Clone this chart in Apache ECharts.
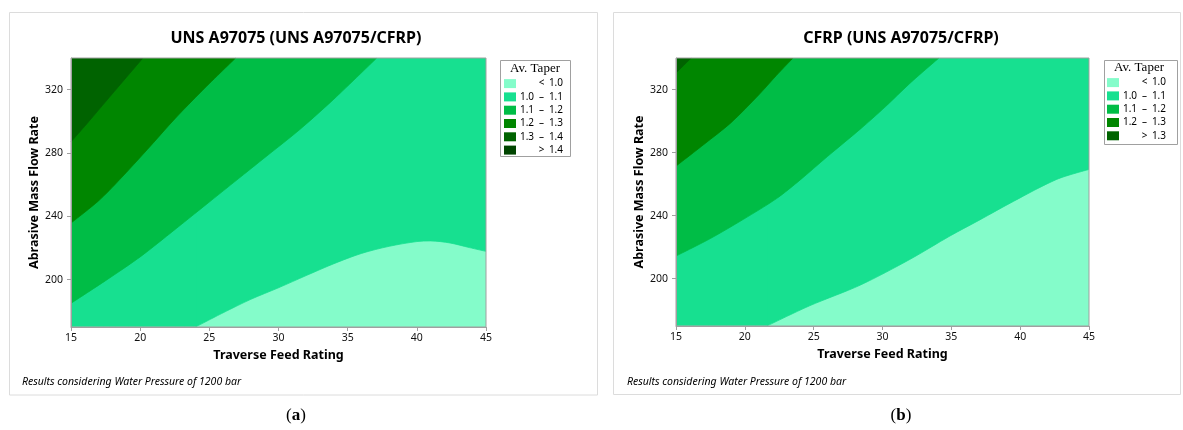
<!DOCTYPE html>
<html>
<head>
<meta charset="utf-8">
<script src="https://cdn.jsdelivr.net/npm/echarts@6/dist/echarts.min.js"></script>
<style>
  html, body { margin: 0; padding: 0; background: #ffffff; }
  #chart { width: 1183px; height: 430px; }
</style>
</head>
<body>
<div id="chart"></div>
<script>
// ---- axes ----
const xRange = [15, 45];
const yRange = [170, 340];
const xTicks = [15, 20, 25, 30, 35, 40, 45];
const yTicks = [200, 240, 280, 320];

// ---- contour levels (Av. Taper) ----
const levelsA = [1.0, 1.1, 1.2, 1.3, 1.4];
const levelsB = [1.0, 1.1, 1.2, 1.3];
const bandColors = ['#84fcca', '#17e090', '#00bd46', '#008600', '#006300', '#004500'];
const bandColorsB = ['#84fcca', '#17e090', '#00bd46', '#008600', '#006300'];

// ---- contour boundaries, UNS A97075 panel: [feed rate, mass flow] where taper crosses each level ----
const a_level10 = [[24.0, 170], [26, 179], [28, 187.5], [30, 194.8], [32, 202.5], [34, 210],
                   [36, 216.5], [38, 221], [40, 224], [41, 224.4], [42.4, 223.1], [43.8, 220.2], [45, 217.8]];
const a_level11 = [[15, 185], [17.5, 199.3], [20, 214.3], [22.5, 231.5], [25, 249], [27, 263], [29, 277],
                   [31.5, 294.5], [34, 314], [37.1, 340]];
const a_level12 = [[15, 235.7], [17, 249.8], [18.5, 263], [20.5, 282], [22.5, 301.5], [24.5, 319.5], [26.9, 340]];
const a_level13 = [[15, 287], [16.3, 300], [17.6, 313.4], [20.2, 340]];
const a_level14 = [];

// ---- contour boundaries, CFRP panel ----
const b_level10 = [[21.6, 170], [24.7, 182.8], [28.4, 196], [32, 212.3], [34.9, 227.1], [37, 237],
                   [39.5, 249], [42.65, 263], [45, 269.3]];
const b_level11 = [[15, 214.4], [17.5, 225.5], [19.9, 237.7], [22.3, 250.8], [24, 262.5], [26, 277.5],
                   [28.4, 295], [30.2, 309], [32, 324], [34.1, 340]];
const b_level12 = [[15, 271.4], [17, 285], [19, 299], [21, 316.5], [22.3, 329], [23.5, 340]];
const b_level13 = [[15, 330.5], [16.1, 340]];

const FONT = "'Noto Sans', 'Open Sans', sans-serif";

// band labels in the key: "< 1.0", "1.0 – 1.1", ..., "> top"
function bandLabels(levels) {
  const out = ['{l| }{d|<}{r|' + levels[0].toFixed(1) + '}'];
  for (let i = 0; i < levels.length - 1; i++) {
    out.push('{l|' + levels[i].toFixed(1) + '}{d|–}{r|' + levels[i + 1].toFixed(1) + '}');
  }
  out.push('{l| }{d|>}{r|' + levels[levels.length - 1].toFixed(1) + '}');
  return out;
}

// one filled area from the given lower edge up to the top of the plot
function area(name, data, color, idx, smooth) {
  return {
    type: 'line', name: name, xAxisIndex: idx, yAxisIndex: idx,
    data: data, color: color, symbol: 'none', showSymbol: false,
    smooth: smooth,
    lineStyle: { width: 0.8, color: color },
    areaStyle: { origin: 'end', color: color, opacity: 1 },
    silent: true, animation: false, z: 2
  };
}
// a band = region above its boundary; where the boundary leaves through the
// bottom edge, the columns to the left of that point are filled entirely
function bandSeries(name, boundary, color, idx) {
  const out = [area(name, boundary, color, idx, 0.3)];
  if (boundary.length && boundary[0][1] === yRange[0] && boundary[0][0] > xRange[0]) {
    out.push(area(name, [[xRange[0], yRange[0]], [boundary[0][0] + 0.08, yRange[0]]], color, idx, false));
  }
  return out;
}

const fullPlot = [[xRange[0], yRange[0]], [xRange[1], yRange[0]]];
const boundsA = [fullPlot, a_level10, a_level11, a_level12, a_level13, a_level14];
const boundsB = [fullPlot, b_level10, b_level11, b_level12, b_level13];

const labelsA = bandLabels(levelsA);
const labelsB = bandLabels(levelsB);
const labelMap = {};
const namesA = boundsA.map((_, i) => 'A' + i);
const namesB = boundsB.map((_, i) => 'B' + i);
namesA.forEach((n, i) => labelMap[n] = labelsA[i]);
namesB.forEach((n, i) => labelMap[n] = labelsB[i]);

const series = [];
boundsA.forEach((d, i) => series.push(...bandSeries(namesA[i], d, bandColors[i], 0)));
boundsB.forEach((d, i) => series.push(...bandSeries(namesB[i], d, bandColorsB[i], 1)));

function xAxis(idx) {
  return {
    type: 'value', gridIndex: idx, min: xRange[0], max: xRange[1], interval: 5, z: 5,
    name: 'Traverse Feed Rating', nameLocation: 'middle', nameGap: 20,
    nameTextStyle: { fontFamily: FONT, fontSize: 12.5, fontWeight: 'bold', color: '#000' },
    axisLine: { show: true, lineStyle: { color: '#a0a0a0', width: 1 } },
    axisTick: { show: true, length: 4, lineStyle: { color: '#a0a0a0' } },
    axisLabel: { fontFamily: FONT, fontSize: 10.5, color: '#111', margin: 6 },
    splitLine: { show: false }
  };
}
function yAxis(idx) {
  return {
    type: 'value', gridIndex: idx, min: yRange[0], max: yRange[1], z: 5,
    name: 'Abrasive Mass Flow Rate', nameLocation: 'middle', nameGap: 30,
    nameTextStyle: { fontFamily: FONT, fontSize: 12.5, fontWeight: 'bold', color: '#000' },
    axisLine: { show: true, lineStyle: { color: '#a0a0a0', width: 1 } },
    axisTick: { show: true, length: 4, customValues: yTicks, lineStyle: { color: '#a0a0a0' } },
    axisLabel: { fontFamily: FONT, fontSize: 10.5, color: '#111', margin: 8, customValues: yTicks },
    splitLine: { show: false }
  };
}

const legendRich = {
  l: { width: 12, align: 'right', fontSize: 10, lineHeight: 12, fontFamily: FONT, color: '#000' },
  d: { width: 17, align: 'center', fontSize: 10, lineHeight: 12, fontFamily: FONT, color: '#000' },
  r: { width: 13, align: 'right', fontSize: 10, lineHeight: 12, fontFamily: FONT, color: '#000' }
};
function legend(names, left, top) {
  return {
    data: names, orient: 'vertical', left: left, top: top, padding: 0,
    itemWidth: 12, itemHeight: 9, itemGap: 3.3, icon: 'rect', selectedMode: false,
    formatter: n => labelMap[n],
    textStyle: { fontSize: 10, fontFamily: FONT, color: '#000', rich: legendRich }
  };
}

const chart = echarts.init(document.getElementById('chart'), null, { renderer: 'canvas' });
chart.setOption({
  backgroundColor: '#ffffff',
  animation: false,
  title: [
    { text: 'UNS A97075 (UNS A97075/CFRP)', left: 296, top: 30.5, textAlign: 'center', padding: 0,
      textStyle: { fontFamily: FONT, fontSize: 16, fontWeight: 'bold', color: '#000' } },
    { text: 'CFRP (UNS A97075/CFRP)', left: 901, top: 30.5, textAlign: 'center', padding: 0,
      textStyle: { fontFamily: FONT, fontSize: 16, fontWeight: 'bold', color: '#000' } }
  ],
  grid: [
    { left: 71, top: 58, width: 415, height: 269, show: true, z: 10,
      backgroundColor: 'transparent', borderColor: '#a0a0a0', borderWidth: 1 },
    { left: 676, top: 58, width: 413, height: 268, show: true, z: 10,
      backgroundColor: 'transparent', borderColor: '#a0a0a0', borderWidth: 1 }
  ],
  xAxis: [xAxis(0), xAxis(1)],
  yAxis: [yAxis(0), yAxis(1)],
  legend: [legend(namesA, 504, 78.6), legend(namesB, 1107, 77.6)],
  series: series,
  graphic: [
    // panel frames
    { type: 'rect', shape: { x: 9.5, y: 12.5, width: 588, height: 382.5 }, z: 0,
      style: { fill: 'none', stroke: '#dcdcdc', lineWidth: 1 } },
    { type: 'rect', shape: { x: 613.5, y: 12.5, width: 567, height: 382 }, z: 0,
      style: { fill: 'none', stroke: '#dcdcdc', lineWidth: 1 } },
    // key boxes and headings
    { type: 'rect', shape: { x: 500.5, y: 60.5, width: 70, height: 96 }, z: 1,
      style: { fill: '#fff', stroke: '#a0a0a0', lineWidth: 1 } },
    { type: 'rect', shape: { x: 1104.5, y: 60.5, width: 73, height: 84 }, z: 1,
      style: { fill: '#fff', stroke: '#a0a0a0', lineWidth: 1 } },
    { type: 'text', x: 535, y: 68.3, z: 20,
      style: { text: 'Av. Taper', fontFamily: "'Liberation Serif', serif", fontSize: 13,
               fill: '#000', align: 'center', verticalAlign: 'middle' } },
    { type: 'text', x: 1139, y: 67.7, z: 20,
      style: { text: 'Av. Taper', fontFamily: "'Liberation Serif', serif", fontSize: 13,
               fill: '#000', align: 'center', verticalAlign: 'middle' } },
    // footnotes
    { type: 'text', x: 22, y: 381.7, z: 20,
      style: { text: 'Results considering Water Pressure of 1200 bar', fontFamily: FONT, fontSize: 10.5,
               fontStyle: 'italic', fill: '#000', verticalAlign: 'middle' } },
    { type: 'text', x: 627, y: 381.7, z: 20,
      style: { text: 'Results considering Water Pressure of 1200 bar', fontFamily: FONT, fontSize: 10.5,
               fontStyle: 'italic', fill: '#000', verticalAlign: 'middle' } },
    // panel letters
    { type: 'text', x: 296, y: 416, z: 20,
      style: { text: '({b|a})', fontFamily: "'Liberation Serif', serif", fontSize: 17, fill: '#000',
               align: 'center', verticalAlign: 'middle',
               rich: { b: { fontFamily: "'Liberation Serif', serif", fontSize: 17, fontWeight: 'bold', fill: '#000' } } } },
    { type: 'text', x: 901, y: 416, z: 20,
      style: { text: '({b|b})', fontFamily: "'Liberation Serif', serif", fontSize: 17, fill: '#000',
               align: 'center', verticalAlign: 'middle',
               rich: { b: { fontFamily: "'Liberation Serif', serif", fontSize: 17, fontWeight: 'bold', fill: '#000' } } } }
  ]
});
</script>
</body>
</html>
